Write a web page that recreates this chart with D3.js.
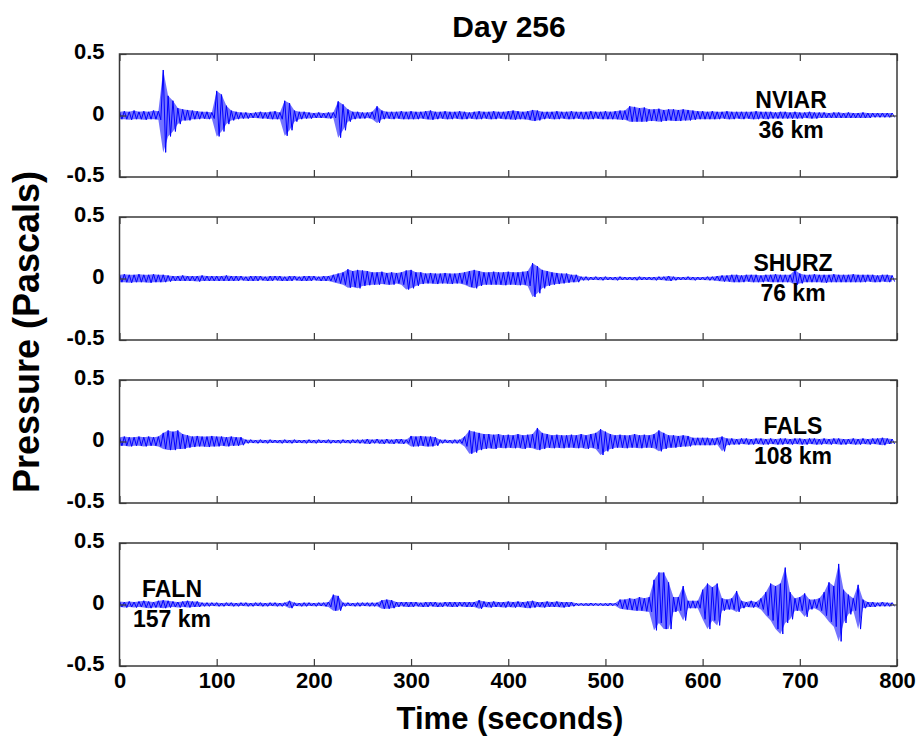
<!DOCTYPE html>
<html><head><meta charset="utf-8">
<script src="https://cdn.jsdelivr.net/npm/d3@7"></script>
<style>body{margin:0;background:#fff}svg{display:block}text{font-family:Arial,"Liberation Sans",Helvetica,sans-serif;font-weight:bold}</style>
</head><body><svg id="c" width="917" height="736"></svg>
<script>
// Time bins (seconds), 5 s apart, 0..795
const binStep = 5;
const xTicks = [0,100,200,300,400,500,600,700,800];
const yTicks = [-0.5,0,0.5];
const stations = ["NVIAR","SHURZ","FALS","FALN"];
const distances = ["36 km","76 km","108 km","157 km"];
const labelTimes = [691,693,693,54];

// Envelope maxima / minima (Pa) per 5-s bin
const nviarHi = [.03,.035,.03,.04,.03,.035,.03,.04,.035,.37,
.16,.12,.06,.05,.045,.04,.035,.03,.03,.025,
.2,.17,.08,.04,.03,.025,.025,.02,.025,.03,
.025,.03,.035,.025,.12,.1,.04,.03,.03,.025,
.02,.025,.02,.025,.025,.115,.09,.05,.03,.03,
.025,.025,.03,.075,.04,.03,.03,.03,.035,.03,
.035,.03,.03,.035,.04,.03,.03,.035,.03,.03,
.035,.03,.025,.03,.035,.03,.03,.035,.03,.03,
.035,.04,.035,.03,.035,.045,.04,.03,.03,.03,
.035,.03,.03,.035,.03,.03,.03,.035,.03,.03,
.035,.03,.035,.04,.04,.075,.07,.06,.065,.05,
.05,.055,.045,.05,.05,.045,.05,.045,.04,.035,
.035,.03,.035,.03,.03,.035,.03,.03,.03,.03,
.03,.035,.03,.03,.03,.025,.03,.03,.025,.03,
.025,.025,.03,.025,.025,.025,.02,.025,.025,.02,
.025,.02,.02,.025,.02,.02,.02,.02,.02,.02];
const nviarLo = [-.03,-.03,-.035,-.03,-.03,-.035,-.03,-.03,-.035,-.3,
-.17,-.13,-.07,-.04,-.04,-.03,-.03,-.025,-.03,-.025,
-.17,-.13,-.07,-.04,-.03,-.025,-.025,-.02,-.02,-.025,
-.025,-.03,-.03,-.03,-.165,-.12,-.05,-.03,-.025,-.025,
-.02,-.02,-.02,-.025,-.02,-.18,-.12,-.05,-.03,-.025,
-.025,-.02,-.03,-.06,-.03,-.025,-.03,-.025,-.03,-.03,
-.03,-.03,-.025,-.03,-.035,-.03,-.025,-.03,-.03,-.025,
-.03,-.03,-.025,-.03,-.03,-.025,-.03,-.03,-.025,-.03,
-.03,-.035,-.03,-.03,-.035,-.045,-.04,-.03,-.025,-.03,
-.03,-.025,-.03,-.03,-.025,-.03,-.03,-.03,-.025,-.03,
-.03,-.03,-.03,-.035,-.035,-.05,-.05,-.05,-.05,-.045,
-.045,-.05,-.045,-.04,-.045,-.045,-.04,-.04,-.035,-.03,
-.03,-.03,-.03,-.03,-.025,-.03,-.03,-.025,-.03,-.025,
-.03,-.03,-.025,-.03,-.025,-.025,-.025,-.025,-.025,-.025,
-.025,-.02,-.025,-.025,-.02,-.02,-.02,-.02,-.02,-.02,
-.02,-.02,-.02,-.02,-.02,-.015,-.015,-.015,-.015,-.015];

const shurzHi = [.03,.035,.03,.03,.035,.03,.03,.035,.03,.03,
.025,.02,.02,.025,.02,.02,.02,.025,.02,.02,
.02,.02,.025,.02,.02,.02,.015,.02,.02,.02,
.015,.02,.02,.02,.015,.02,.02,.015,.02,.02,
.02,.015,.02,.02,.03,.04,.05,.075,.06,.07,
.065,.06,.05,.05,.055,.045,.05,.045,.05,.065,
.07,.05,.05,.04,.045,.04,.04,.045,.04,.04,
.045,.05,.06,.07,.06,.05,.05,.055,.05,.05,
.055,.05,.05,.055,.06,.125,.1,.07,.06,.05,
.045,.04,.04,.03,.03,.015,.015,.012,.015,.012,
.015,.012,.012,.015,.012,.012,.012,.015,.012,.012,
.012,.015,.015,.02,.015,.012,.012,.015,.012,.012,
.012,.015,.015,.02,.025,.025,.03,.03,.025,.03,
.03,.03,.025,.03,.03,.035,.03,.03,.03,.07,
.04,.03,.03,.035,.03,.03,.03,.035,.03,.03,
.03,.035,.03,.03,.03,.03,.025,.03,.03,.025];
const shurzLo = [-.03,-.03,-.035,-.03,-.03,-.03,-.035,-.03,-.03,-.03,
-.025,-.02,-.02,-.02,-.02,-.02,-.025,-.02,-.02,-.02,
-.02,-.02,-.02,-.02,-.02,-.015,-.02,-.02,-.02,-.015,
-.02,-.02,-.015,-.02,-.02,-.02,-.015,-.02,-.02,-.02,
-.015,-.02,-.02,-.02,-.03,-.04,-.05,-.075,-.07,-.08,
-.06,-.055,-.05,-.05,-.045,-.05,-.05,-.04,-.05,-.09,
-.08,-.06,-.045,-.04,-.04,-.045,-.04,-.04,-.045,-.04,
-.04,-.05,-.07,-.08,-.06,-.05,-.05,-.05,-.05,-.055,
-.05,-.05,-.055,-.05,-.06,-.15,-.12,-.08,-.06,-.05,
-.045,-.04,-.035,-.03,-.03,-.015,-.015,-.012,-.012,-.015,
-.012,-.012,-.015,-.012,-.012,-.012,-.015,-.012,-.012,-.012,
-.015,-.012,-.015,-.02,-.015,-.012,-.012,-.012,-.015,-.012,
-.012,-.015,-.015,-.02,-.025,-.025,-.03,-.03,-.03,-.025,
-.03,-.03,-.03,-.025,-.03,-.03,-.03,-.03,-.03,-.05,
-.04,-.03,-.03,-.03,-.03,-.035,-.03,-.03,-.03,-.03,
-.03,-.03,-.03,-.03,-.025,-.03,-.03,-.025,-.03,-.025];

const falsHi = [.035,.04,.035,.035,.04,.035,.04,.035,.04,.07,
.09,.08,.09,.06,.05,.04,.045,.04,.04,.045,
.04,.04,.035,.04,.035,.035,.015,.015,.012,.015,
.012,.015,.012,.012,.015,.012,.015,.012,.012,.015,
.012,.015,.012,.015,.012,.012,.015,.012,.015,.015,
.015,.02,.015,.02,.015,.02,.015,.02,.02,.015,
.045,.04,.045,.04,.04,.035,.015,.015,.012,.015,
.015,.04,.09,.08,.07,.06,.06,.055,.06,.05,
.055,.05,.06,.05,.055,.06,.11,.07,.06,.05,
.055,.05,.05,.055,.05,.06,.05,.06,.07,.1,
.08,.06,.05,.055,.05,.05,.06,.05,.055,.05,
.06,.09,.07,.05,.05,.045,.05,.045,.03,.03,
.03,.03,.025,.03,.04,.025,.025,.02,.025,.025,
.02,.025,.025,.02,.025,.02,.025,.025,.02,.025,
.025,.02,.025,.025,.02,.025,.02,.025,.025,.02,
.02,.025,.02,.025,.02,.025,.025,.03,.025,.02];
const falsLo = [-.035,-.035,-.04,-.035,-.035,-.04,-.035,-.035,-.04,-.06,
-.07,-.07,-.06,-.06,-.05,-.045,-.04,-.04,-.045,-.04,
-.04,-.035,-.04,-.035,-.035,-.03,-.015,-.012,-.015,-.012,
-.015,-.012,-.012,-.015,-.012,-.015,-.012,-.012,-.015,-.012,
-.015,-.012,-.012,-.015,-.012,-.015,-.012,-.015,-.012,-.015,
-.015,-.02,-.015,-.015,-.02,-.015,-.02,-.015,-.02,-.015,
-.04,-.04,-.035,-.04,-.04,-.035,-.015,-.012,-.015,-.015,
-.015,-.04,-.1,-.09,-.07,-.06,-.055,-.06,-.05,-.055,
-.05,-.055,-.05,-.06,-.05,-.055,-.07,-.06,-.05,-.055,
-.05,-.055,-.05,-.05,-.055,-.05,-.06,-.05,-.06,-.11,
-.08,-.06,-.05,-.05,-.055,-.05,-.05,-.055,-.05,-.05,
-.055,-.08,-.06,-.05,-.05,-.045,-.04,-.04,-.03,-.03,
-.03,-.03,-.03,-.025,-.08,-.03,-.025,-.025,-.02,-.025,
-.025,-.02,-.025,-.025,-.02,-.025,-.025,-.02,-.025,-.02,
-.025,-.025,-.02,-.025,-.025,-.02,-.025,-.02,-.025,-.025,
-.02,-.025,-.025,-.02,-.025,-.02,-.025,-.03,-.02,-.02];

const falnHi = [.025,.02,.025,.02,.025,.03,.025,.02,.03,.035,
.03,.025,.02,.025,.03,.025,.025,.015,.015,.015,
.015,.012,.015,.015,.012,.015,.015,.012,.015,.015,
.012,.015,.015,.012,.015,.03,.015,.012,.015,.015,
.012,.015,.015,.02,.08,.07,.015,.015,.012,.015,
.015,.015,.015,.015,.035,.04,.035,.02,.02,.02,
.02,.02,.015,.02,.02,.02,.015,.02,.02,.02,
.02,.02,.02,.02,.035,.025,.02,.025,.02,.02,
.025,.02,.025,.02,.025,.03,.02,.02,.025,.02,
.025,.02,.02,.02,.01,.01,.01,.012,.01,.01,
.01,.012,.01,.04,.04,.05,.045,.06,.05,.06,
.2,.26,.26,.18,.06,.06,.15,.03,.03,.03,
.12,.17,.14,.17,.05,.04,.05,.11,.03,.02,
.03,.02,.05,.1,.17,.15,.17,.3,.1,.05,
.06,.09,.04,.04,.05,.1,.18,.15,.33,.12,
.08,.05,.16,.04,.02,.02,.015,.02,.015,.015];
const falnLo = [-.02,-.025,-.02,-.025,-.02,-.025,-.03,-.025,-.025,-.03,
-.025,-.02,-.025,-.02,-.025,-.02,-.02,-.015,-.015,-.012,
-.015,-.015,-.012,-.015,-.015,-.012,-.015,-.015,-.012,-.015,
-.015,-.012,-.015,-.015,-.012,-.03,-.012,-.015,-.015,-.012,
-.015,-.012,-.015,-.02,-.05,-.05,-.015,-.012,-.015,-.015,
-.012,-.015,-.015,-.015,-.035,-.035,-.03,-.02,-.015,-.02,
-.02,-.015,-.02,-.02,-.015,-.02,-.02,-.015,-.02,-.02,
-.015,-.02,-.02,-.02,-.035,-.02,-.025,-.02,-.02,-.025,
-.02,-.025,-.02,-.025,-.03,-.025,-.02,-.025,-.02,-.02,
-.02,-.025,-.02,-.015,-.01,-.01,-.012,-.01,-.01,-.01,
-.012,-.01,-.01,-.035,-.04,-.045,-.05,-.05,-.055,-.06,
-.21,-.15,-.2,-.2,-.06,-.05,-.13,-.03,-.03,-.03,
-.12,-.2,-.13,-.17,-.05,-.04,-.04,-.06,-.03,-.02,
-.025,-.02,-.04,-.09,-.13,-.2,-.24,-.15,-.12,-.05,
-.05,-.1,-.04,-.03,-.05,-.09,-.14,-.18,-.3,-.15,
-.08,-.05,-.2,-.03,-.02,-.02,-.015,-.015,-.015,-.015];

const his = [nviarHi, shurzHi, falsHi, falnHi];
const los = [nviarLo, shurzLo, falsLo, falnLo];

// ---- layout ----
const svg = d3.select("#c");
const L = 119.5, R = 897, panelTop0 = 54, panelH = 123, panelStep = 163;
const x = d3.scaleLinear().domain([0,800]).range([L,R]);
const FONT = 'Arial,"Liberation Sans",Helvetica,sans-serif';

svg.append("text").attr("x",509).attr("y",37).attr("text-anchor","middle")
  .attr("font-size",30).text("Day 256");

stations.forEach((name,k)=>{
  const top = panelTop0 + k*panelStep, bot = top + panelH;
  const y = d3.scaleLinear().domain([-0.5,0.5]).range([bot,top]);
  const g = svg.append("g");

  // waveform: envelope band plus zigzag between max and min within each bin
  const pts = [];
  his[k].forEach((h,i)=>{
    const t = i*binStep;
    pts.push([t, h]);
    pts.push([t + binStep/2, los[k][i]]);
  });
  const area = d3.area().x((d,i)=>x(i*binStep)).y0((d,i)=>y(los[k][i])).y1(d=>y(d));
  g.append("path").attr("d", area(his[k])).attr("fill","#0000ff").attr("fill-opacity",0.55);
  g.append("path").attr("d", d3.line().x(d=>x(d[0])).y(d=>y(d[1]))(pts))
    .attr("fill","none").attr("stroke","#0000ff").attr("stroke-width",1).attr("stroke-linejoin","round");

  // frame
  g.append("rect").attr("x",L).attr("y",top).attr("width",R-L).attr("height",panelH)
    .attr("fill","none").attr("stroke","#3a3a3a").attr("stroke-width",1.5);

  const axB = g.append("g").attr("transform",`translate(0,${bot})`)
    .call(d3.axisBottom(x).tickValues(xTicks).tickSizeInner(-7).tickSizeOuter(0).tickPadding(5)
      .tickFormat(k===3 ? d=>String(d) : ""));
  const axT = g.append("g").attr("transform",`translate(0,${top})`)
    .call(d3.axisTop(x).tickValues(xTicks).tickSizeInner(-7).tickSizeOuter(0).tickFormat(""));
  const axL = g.append("g").attr("transform",`translate(${L},0)`)
    .call(d3.axisLeft(y).tickValues(yTicks).tickSizeInner(-7).tickSizeOuter(0).tickPadding(15)
      .tickFormat(d=> d===0 ? "0" : d.toFixed(1)));
  const axR = g.append("g").attr("transform",`translate(${R},0)`)
    .call(d3.axisRight(y).tickValues(yTicks).tickSizeInner(-7).tickSizeOuter(0).tickFormat(""));
  [axB,axT,axL,axR].forEach(a=>{
    a.select(".domain").remove();
    a.selectAll(".tick line").attr("stroke","#3a3a3a").attr("stroke-width",1.2);
    a.selectAll("text").attr("font-size",22).attr("fill","#000")
      .style("font-family",FONT).style("font-weight","bold");
  });
  axL.selectAll("text").attr("dy","0.22em");
  axB.selectAll("text").attr("dy","0.75em");

  const zy = y(0);
  svg.append("text").attr("x",x(labelTimes[k])).attr("y",zy-8).attr("text-anchor","middle")
    .attr("font-size",23).text(name);
  svg.append("text").attr("x",x(labelTimes[k])).attr("y",zy+22).attr("text-anchor","middle")
    .attr("font-size",23).text(distances[k]);
});

svg.append("text").attr("x",510).attr("y",729).attr("text-anchor","middle")
  .attr("font-size",31).text("Time (seconds)");
svg.append("text").attr("transform","translate(39,332) rotate(-90)").attr("text-anchor","middle")
  .attr("font-size",36).text("Pressure (Pascals)");
</script></body></html>
